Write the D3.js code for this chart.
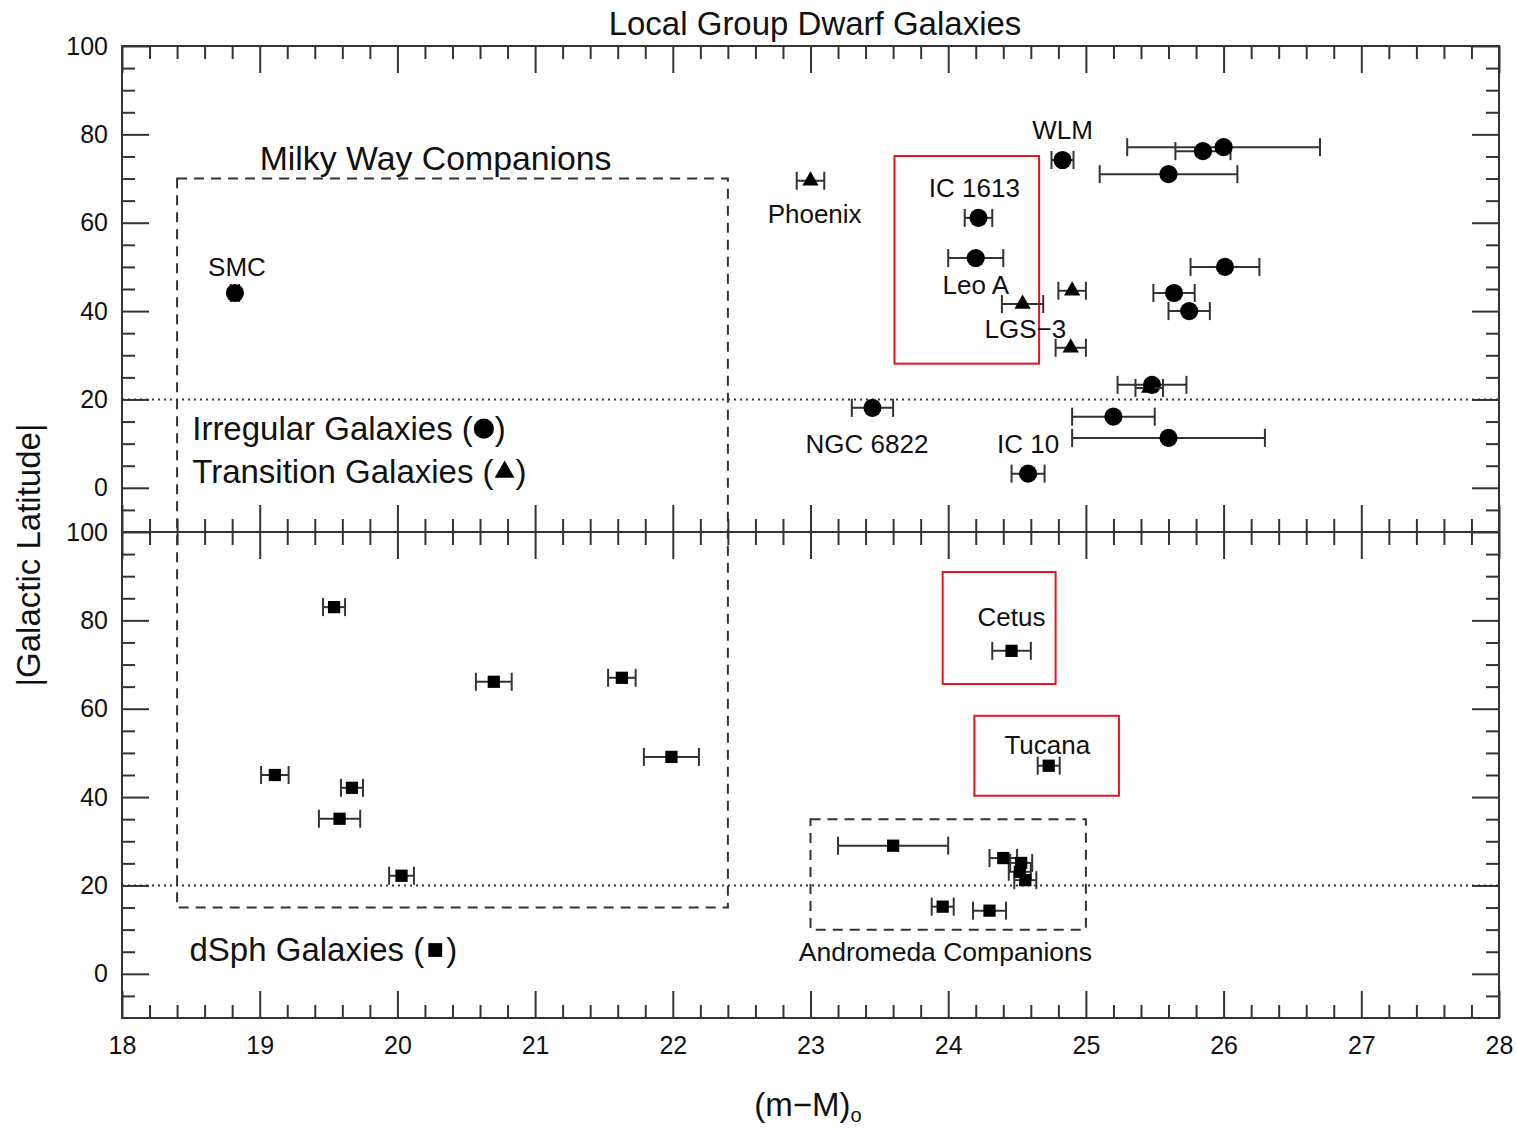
<!DOCTYPE html>
<html>
<head>
<meta charset="utf-8">
<script src="https://cdn.jsdelivr.net/npm/d3@7"></script>
<style>
  body { margin: 0; background: #fff; }
  text { font-family: "Liberation Sans", Arial, Helvetica, sans-serif; fill: #111; }
</style>
</head>
<body>
<svg id="chart" width="1517" height="1130"></svg>
<script>
'use strict';

// [distance modulus, error, |b|]
const irregulars = [
  [18.82, 0.03, 44.1], [24.83, 0.08, 74.2], [25.85, 0.2, 76.2], [26.0, 0.7, 77.1],
  [25.6, 0.5, 71.0], [24.22, 0.1, 61.1], [24.2, 0.2, 52.0], [26.01, 0.25, 50.0],
  [25.64, 0.15, 44.1], [25.75, 0.15, 40.0], [25.48, 0.25, 23.3], [23.45, 0.15, 18.1],
  [25.2, 0.3, 16.1], [25.6, 0.7, 11.3], [24.58, 0.12, 3.2]
];
const transitions = [
  [23.0, 0.1, 69.5], [24.54, 0.15, 41.6], [24.9, 0.1, 44.6], [24.89, 0.11, 31.7],
  [25.46, 0.1, 22.6]
];
const dsphs = [
  [19.54, 0.08, 83.0], [20.70, 0.13, 66.1], [21.63, 0.1, 67.0], [21.99, 0.2, 49.1],
  [19.11, 0.1, 45.0], [19.67, 0.08, 42.1], [19.58, 0.15, 35.1], [20.03, 0.09, 22.2],
  [24.46, 0.14, 73.1], [24.73, 0.08, 47.1], [23.6, 0.4, 29.0], [24.4, 0.1, 26.2],
  [24.53, 0.08, 25.1], [24.52, 0.08, 23.1], [24.56, 0.08, 21.2], [23.96, 0.08, 15.2],
  [24.3, 0.12, 14.3]
];

// galaxy names: [text, dm, |b|] (baseline, centred)
const topNames = [
  ['SMC', 18.835, 48.0], ['WLM', 24.83, 79.0], ['Phoenix', 23.03, 60.0],
  ['IC 1613', 24.19, 65.8], ['Leo A', 24.2, 43.9], ['LGS\u22123', 24.56, 33.9],
  ['NGC 6822', 23.41, 7.9], ['IC 10', 24.58, 7.9]
];
const bottomNames = [
  ['Cetus', 24.46, 78.7], ['Tucana', 24.72, 49.8], ['Andromeda Companions', 23.98, 2.9]
];
// red highlight boxes: [dm0, dm1, b0, b1]
const topBoxes = [[23.61, 24.66, 28.1, 75.1]];
const bottomBoxes = [[23.96, 24.78, 65.6, 90.95], [24.19, 25.24, 40.3, 58.4]];

const xTicks = [18, 19, 20, 21, 22, 23, 24, 25, 26, 27, 28];
const yTicks = [0, 20, 40, 60, 80, 100];

const svg = d3.select('#chart');
const X0 = 122, X1 = 1499;
const x = d3.scaleLinear().domain([18, 28]).range([X0, X1]);
const yTop = d3.scaleLinear().domain([-10, 100]).range([532, 46]);
const yBot = d3.scaleLinear().domain([-10, 100]).range([1018, 532]);

const AX = '#333';
const xMinor = d3.range(0, 51).map(i => 18 + i * 0.2).filter(v => Math.abs(v - Math.round(v)) > 1e-6);
const yMinor = d3.range(-5, 100, 5).filter(v => v % 20 !== 0);

function styleAxis(g) {
  g.select('.domain').remove();
  g.selectAll('line').attr('stroke', AX).attr('stroke-width', 2);
  g.selectAll('text').attr('font-size', 25).attr('fill', '#111')
    .attr('font-family', '"Liberation Sans", Arial, sans-serif');
}

function drawPanel(y, xLabels) {
  let [yb, yt] = y.range();
  let g = svg.append('g');

  // left
  g.append('g').attr('transform', `translate(${X0},0)`)
    .call(d3.axisLeft(y).tickValues(yTicks).tickSize(-27).tickPadding(14))
    .call(styleAxis);
  g.append('g').attr('transform', `translate(${X0},0)`)
    .call(d3.axisLeft(y).tickValues(yMinor).tickSize(-13).tickFormat(''))
    .call(styleAxis);
  // right
  g.append('g').attr('transform', `translate(${X1},0)`)
    .call(d3.axisRight(y).tickValues(yTicks).tickSize(-27).tickFormat(''))
    .call(styleAxis);
  g.append('g').attr('transform', `translate(${X1},0)`)
    .call(d3.axisRight(y).tickValues(yMinor).tickSize(-13).tickFormat(''))
    .call(styleAxis);
  // top
  g.append('g').attr('transform', `translate(0,${yt})`)
    .call(d3.axisTop(x).tickValues(xTicks).tickSize(-27).tickFormat(''))
    .call(styleAxis);
  g.append('g').attr('transform', `translate(0,${yt})`)
    .call(d3.axisTop(x).tickValues(xMinor).tickSize(-13).tickFormat(''))
    .call(styleAxis);
  // bottom
  let bx = d3.axisBottom(x).tickValues(xTicks).tickSize(-27).tickPadding(18);
  if (!xLabels) bx.tickFormat('');
  g.append('g').attr('transform', `translate(0,${yb})`).call(bx).call(styleAxis);
  g.append('g').attr('transform', `translate(0,${yb})`)
    .call(d3.axisBottom(x).tickValues(xMinor).tickSize(-13).tickFormat(''))
    .call(styleAxis);

  // frame
  g.append('rect')
    .attr('x', X0).attr('y', yt).attr('width', X1 - X0).attr('height', yb - yt)
    .attr('fill', 'none').attr('stroke', AX).attr('stroke-width', 2);

  // dotted line at |b| = 20
  g.append('line')
    .attr('x1', X0).attr('x2', X1).attr('y1', y(20)).attr('y2', y(20))
    .attr('stroke', AX).attr('stroke-width', 2).attr('stroke-dasharray', '2,4');
}

drawPanel(yTop, false);
drawPanel(yBot, true);

// dashed boxes
svg.append('rect')
  .attr('x', x(18.4)).attr('y', yTop(70))
  .attr('width', x(22.4) - x(18.4)).attr('height', yBot(15) - yTop(70))
  .attr('fill', 'none').attr('stroke', AX).attr('stroke-width', 2)
  .attr('stroke-dasharray', '10,7');
svg.append('rect')
  .attr('x', x(23.0)).attr('y', yBot(35))
  .attr('width', x(25.0) - x(23.0)).attr('height', yBot(10) - yBot(35))
  .attr('fill', 'none').attr('stroke', AX).attr('stroke-width', 2)
  .attr('stroke-dasharray', '10,7');

// red boxes
function redBoxes(data, y) {
  svg.append('g').selectAll('rect').data(data).enter().append('rect')
    .attr('x', d => x(d[0])).attr('y', d => y(d[3]))
    .attr('width', d => x(d[1]) - x(d[0])).attr('height', d => y(d[2]) - y(d[3]))
    .attr('fill', 'none').attr('stroke', '#e8141c').attr('stroke-width', 2);
}
redBoxes(topBoxes, yTop);
redBoxes(bottomBoxes, yBot);

// error bars and markers
const CAP = 9;
function points(data, y, shape, size) {
  let g = svg.append('g');
  let eb = g.selectAll('g.eb').data(data).enter().append('g')
    .attr('stroke', AX).attr('stroke-width', 2);
  eb.append('line')
    .attr('x1', d => x(d[0] - d[1])).attr('x2', d => x(d[0] + d[1]))
    .attr('y1', d => y(d[2])).attr('y2', d => y(d[2]));
  eb.append('line')
    .attr('x1', d => x(d[0] - d[1])).attr('x2', d => x(d[0] - d[1]))
    .attr('y1', d => y(d[2]) - CAP).attr('y2', d => y(d[2]) + CAP);
  eb.append('line')
    .attr('x1', d => x(d[0] + d[1])).attr('x2', d => x(d[0] + d[1]))
    .attr('y1', d => y(d[2]) - CAP).attr('y2', d => y(d[2]) + CAP);
  g.selectAll('path.m').data(data).enter().append('path')
    .attr('d', d3.symbol().type(shape).size(size))
    .attr('transform', d => `translate(${x(d[0])},${y(d[2])})`)
    .attr('fill', '#000');
}
points(irregulars, yTop, d3.symbolCircle, 260);
points(transitions, yTop, d3.symbolTriangle, 115);
points(dsphs, yBot, d3.symbolSquare, 150);

// names
function names(data, y, fs) {
  svg.append('g').selectAll('text').data(data).enter().append('text')
    .attr('x', d => x(d[1])).attr('y', d => y(d[2]))
    .attr('text-anchor', 'middle').attr('font-size', fs)
    .text(d => d[0]);
}
names(topNames, yTop, 26);
names(bottomNames.slice(0, 2), yBot, 26);
names(bottomNames.slice(2), yBot, 26.5);

// big labels
svg.append('text').attr('x', x(19.0)).attr('y', yTop(71.9))
  .attr('font-size', 33.8).text('Milky Way Companions');

function legendLabel(txt, dm, b, y, shape, size) {
  let t = svg.append('text').attr('x', x(dm)).attr('y', y(b))
    .attr('font-size', 33).text(txt + ' (');
  let w = t.node().getComputedTextLength();
  let cx = x(dm) + w + 11;
  svg.append('path').attr('d', d3.symbol().type(shape).size(size))
    .attr('transform', `translate(${cx},${y(b) - 11})`).attr('fill', '#000');
  svg.append('text').attr('x', cx + 11).attr('y', y(b))
    .attr('font-size', 33).text(')');
}
legendLabel('Irregular Galaxies', 18.51, 10.9, yTop, d3.symbolCircle, 320);
legendLabel('Transition Galaxies', 18.51, 1.1, yTop, d3.symbolTriangle, 170);
legendLabel('dSph Galaxies', 18.49, 2.9, yBot, d3.symbolSquare, 190);

// title and axis titles
svg.append('text').attr('x', 815).attr('y', 35).attr('text-anchor', 'middle')
  .attr('font-size', 33).text('Local Group Dwarf Galaxies');

let xl = svg.append('text').attr('x', 808).attr('y', 1116).attr('text-anchor', 'middle')
  .attr('font-size', 33);
xl.append('tspan').text('(m\u2212M)');
xl.append('tspan').attr('font-size', 20).attr('dy', 6).text('o');

svg.append('text')
  .attr('transform', 'translate(40,555) rotate(-90)')
  .attr('text-anchor', 'middle').attr('font-size', 33)
  .text('|Galactic Latitude|');
</script>
</body>
</html>
